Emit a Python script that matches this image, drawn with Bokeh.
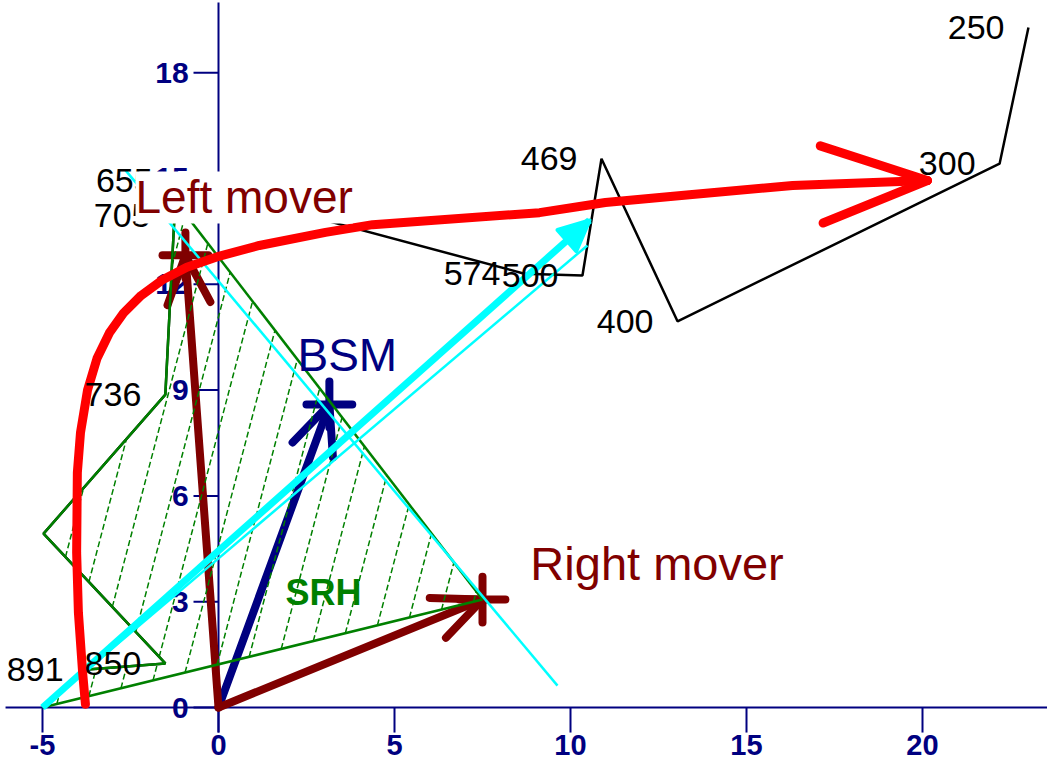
import math
from bokeh.plotting import figure
from bokeh.models import Range1d, Label
from bokeh.core.properties import value
from bokeh.embed import file_html
from bokeh.resources import INLINE

# ---------------- data ----------------
# hodograph (u, v) with pressure-level labels
hodo_u = [-5.0, -3.72, -1.51, -4.97, -1.51, -1.25, -1.19, 8.69, 10.34, 10.88, 13.04, 22.19, 23.01]
hodo_v = [0.0, 1.08, 1.25, 4.93, 8.87, 13.95, 14.94, 12.30, 12.25, 15.56, 10.95, 15.42, 19.28]
hodo_labels = ["", "891", "850", "", "736", "705", "655", "574", "500", "469", "400", "300", "250"]

# storm-relative helicity area: hodograph points up to 3 km + interpolated 3 km point
srh_n = 6
srh_top_u = -1.22
srh_top_v = 14.35

# storm motions
right_u, right_v = 7.5, 3.06
left_u, left_v = -0.94, 12.82
bsm_u, bsm_v = 3.15, 8.59

# cyan vectors
shear_u = [-5.0, 10.54]
shear_v = [0.0, 13.81]
mean_u = [-3.72, 10.48]
mean_v = [1.08, 13.10]
perp_u = [-2.64, 9.63]
perp_v = [15.23, 0.62]

# red curved arrow
curve_u = [-3.78, -3.86, -3.98, -4.03, -4.01, -3.92, -3.72, -3.45, -3.10, -2.70, -2.20,
           -1.60, -0.90, 0.03, 1.16, 3.04, 4.38, 9.12, 10.99, 13.38, 16.31, 20.14]
curve_v = [0.09, 0.99, 2.69, 4.39, 6.66, 7.80, 9.00, 9.90, 10.62, 11.18, 11.68,
           12.12, 12.48, 12.80, 13.10, 13.47, 13.69, 14.03, 14.32, 14.54, 14.80, 14.94]

x_ticks = [-5, 0, 5, 10, 15, 20]
y_ticks = [0, 3, 6, 9, 12, 15, 18]

# ---------------- style ----------------
NAVY = "#000080"
MAROON = "#800000"
GREEN = "#008000"
CYAN = "#00ffff"
RED = "#ff0000"
FONT = "Liberation Sans"

W, H = 1047, 760
SX, SY = 35.2, 35.27
x0 = (8 - 226) / SX
ytop = (715 - 8) / SY
p = figure(width=W, height=H, output_backend="svg", toolbar_location=None,
           x_range=Range1d(x0, x0 + W / SX), y_range=Range1d(ytop - H / SY, ytop),
           min_border=0, outline_line_color=None)
p.axis.visible = False
p.grid.visible = False
p.background_fill_color = "white"


def head(tip_x, tip_y, from_x, from_y, length, ang):
    a = math.atan2(tip_y - from_y, tip_x - from_x) + math.pi
    pts = []
    for s in (-1, 1):
        b = a + s * math.radians(ang)
        pts.append((tip_x + length * math.cos(b), tip_y + length * math.sin(b)))
    return pts


# ---------------- axes ----------------
tick_len = 0.71
p.segment(x0=[-6.05], y0=[0], x1=[24], y1=[0], line_color=NAVY, line_width=2)
p.segment(x0=[0], y0=[-tick_len], x1=[0], y1=[19.99], line_color=NAVY, line_width=2)
p.segment(x0=x_ticks, y0=[0] * len(x_ticks), x1=x_ticks, y1=[-tick_len] * len(x_ticks),
          line_color=NAVY, line_width=2)
p.segment(x0=[0] * len(y_ticks), y0=y_ticks, x1=[-tick_len] * len(y_ticks), y1=y_ticks,
          line_color=NAVY, line_width=2)
p.text(x=x_ticks, y=[ytop - 744 / SY] * len(x_ticks), text=[str(t) for t in x_ticks],
       text_font=value(FONT), text_font_size="29px", text_font_style="bold",
       text_color=NAVY, text_align="center", text_baseline="middle")
p.text(x=[-0.85] * len(y_ticks), y=y_ticks, text=[str(t) for t in y_ticks],
       text_font=value(FONT), text_font_size="30px", text_font_style="bold",
       text_color=NAVY, text_align="right", text_baseline="middle")

# ---------------- storm motion markers ----------------
def storm_marker(u, v, color):
    xs, ys = [[0, u]], [[0, v]]
    for bx, by in head(u, v, 0, 0, 1.5, 24):
        xs.append([u, bx]); ys.append([v, by])
    c = 0.65
    xs += [[u - c, u + c], [u, u]]
    ys += [[v, v], [v - c, v + c]]
    p.multi_line(xs, ys, line_color=color, line_width=8, line_cap="round")

storm_marker(bsm_u, bsm_v, NAVY)
storm_marker(right_u, right_v, MAROON)
storm_marker(left_u, left_v, MAROON)

# ---------------- SRH hatch ----------------
poly_u = [right_u] + hodo_u[:srh_n] + [srh_top_u]
poly_v = [right_v] + hodo_v[:srh_n] + [srh_top_v]
m = 3.8
spacing = 0.852
c0 = -3.58 - 0.709 / m
hx, hy = [], []
n = len(poly_u)
for k in range(-12, 30):
    c = c0 + spacing * k
    ts = []
    for i in range(n):
        xa, ya = poly_u[i], poly_v[i]
        xb, yb = poly_u[(i + 1) % n], poly_v[(i + 1) % n]
        fa = xa - ya / m - c
        fb = xb - yb / m - c
        if (fa > 0) != (fb > 0):
            t = fa / (fa - fb)
            ts.append(ya + t * (yb - ya))
    ts.sort()
    for a, b in zip(ts[0::2], ts[1::2]):
        hx.append([c + a / m, c + b / m])
        hy.append([a, b])
p.multi_line(hx, hy, line_color=GREEN, line_width=1.5, line_dash="6 3")

# ---------------- hodograph ----------------
p.line(hodo_u, hodo_v, line_color="black", line_width=2.5)
p.line(hodo_u[:srh_n] + [srh_top_u], hodo_v[:srh_n] + [srh_top_v], line_color=GREEN, line_width=2.5)
p.segment(x0=[right_u, right_u], y0=[right_v, right_v],
          x1=[hodo_u[0], srh_top_u], y1=[hodo_v[0], srh_top_v], line_color=GREEN, line_width=2.5)

# ---------------- cyan ----------------
p.line(perp_u, perp_v, line_color=CYAN, line_width=2.5)
p.line(mean_u, mean_v, line_color=CYAN, line_width=2.5)
p.line(shear_u, shear_v, line_color=CYAN, line_width=7)
hp = head(shear_u[1], shear_v[1], shear_u[0], shear_v[0], 0.95, 25)
p.patch([shear_u[1], hp[0][0], hp[1][0]], [shear_v[1], hp[0][1], hp[1][1]],
        fill_color=CYAN, line_color=CYAN, line_width=4, line_join="round")

# ---------------- red curved arrow ----------------
p.line(curve_u, curve_v, line_color=RED, line_width=9, line_join="round", line_cap="round")
rx, ry = [], []
for bx, by in head(curve_u[-1], curve_v[-1], curve_u[-2], curve_v[-2], 3.2, 20):
    rx.append([curve_u[-1], bx]); ry.append([curve_v[-1], by])
p.multi_line(rx, ry, line_color=RED, line_width=9, line_cap="round")

# ---------------- labels ----------------
lab_u = [u for u, t in zip(hodo_u, hodo_labels) if t]
lab_v = [v for v, t in zip(hodo_v, hodo_labels) if t]
lab_t = [t for t in hodo_labels if t]
p.text(x=lab_u, y=lab_v, text=lab_t, text_font=value(FONT), text_font_size="34px",
       text_color="black", text_align="right", text_baseline="middle", x_offset=-24)

p.text(x=[1.90], y=[3.25], text=["SRH"], text_font=value(FONT), text_font_size="36px",
       text_font_style="bold", text_color=GREEN, text_baseline="middle")
p.text(x=[2.244], y=[9.99], text=["BSM"], text_font=value(FONT), text_font_size="46px",
       text_color=NAVY, text_baseline="middle")
p.text(x=[8.86], y=[4.07], text=["Right mover"], text_font=value(FONT), text_font_size="47px",
       text_color=MAROON, text_baseline="middle")
p.add_layout(Label(x=-2.358, y=14.46, text="Left mover", text_font=FONT, text_font_size="46px",
                   text_color=MAROON, text_baseline="middle",
                   background_fill_color="white"))

open("out.html", "w").write(file_html(p, INLINE))
